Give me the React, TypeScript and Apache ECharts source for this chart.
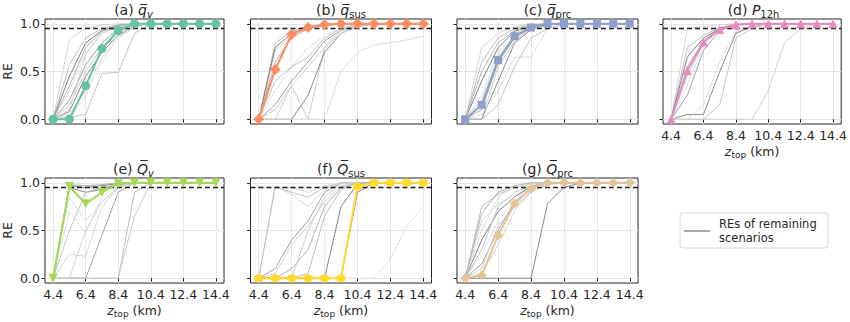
import React, { useEffect, useRef } from "react";
import * as echarts from "echarts";

const Z_TOP = [4.4, 5.4, 6.4, 7.4, 8.4, 9.4, 10.4, 11.4, 12.4, 13.4, 14.4];
const X_TICKS = [4.4, 6.4, 8.4, 10.4, 12.4, 14.4];
const Y_TICKS = [0, 0.5, 1];
const THRESHOLD = 0.95;

const qvMain = [0, 0, 0.35, 0.74, 0.93, 1, 1, 1, 1, 1, 1];
const qvOthers = [
  [0, 0.84, 0.95, 0.99, 1, 1, 1, 1, 1, 1, 1],
  [0, 0.57, 0.85, 0.95, 0.99, 1, 1, 1, 1, 1, 1],
  [0, 0.45, 0.8, 0.93, 0.98, 1, 1, 1, 1, 1, 1],
  [0, 0.3, 0.7, 0.9, 0.97, 1, 1, 1, 1, 1, 1],
  [0, 0.2, 0.57, 0.8, 0.95, 1, 1, 1, 1, 1, 1],
  [0, 0.15, 0.5, 0.75, 0.9, 0.98, 1, 1, 1, 1, 1],
  [0, 0.08, 0.45, 0.7, 0.88, 0.97, 1, 1, 1, 1, 1],
  [0, 0.05, 0.3, 0.65, 0.85, 0.96, 1, 1, 1, 1, 1],
  [0, 0.02, 0.05, 0.48, 0.49, 0.9, 1, 1, 1, 1, 1],
  [0, 0.1, 0.68, 0.9, 0.97, 1, 1, 1, 1, 1, 1],
  [0, 0.35, 0.75, 0.92, 0.98, 1, 1, 1, 1, 1, 1],
  [0, 0, 0.25, 0.6, 0.86, 0.98, 1, 1, 1, 1, 1],
];

const qsusMain = [0, 0.52, 0.89, 0.96, 0.99, 1, 1, 1, 1, 1, 1];
const qsusOthers = [
  [0, 0.72, 0.88, 0.95, 0.99, 1, 1, 1, 1, 1, 1],
  [0, 0.8, 0.92, 0.97, 1, 1, 1, 1, 1, 1, 1],
  [0, 0.75, 0.9, 0.96, 0.99, 1, 1, 1, 1, 1, 1],
  [0, 0.3, 0.55, 0.75, 0.88, 0.95, 0.98, 1, 1, 1, 1],
  [0, 0.15, 0.4, 0.6, 0.82, 0.93, 0.98, 1, 1, 1, 1],
  [0, 0.1, 0.35, 0, 0.75, 0.93, 0.98, 1, 1, 1, 1],
  [0, 0, 0, 0.25, 0.7, 0.9, 0.97, 1, 1, 1, 1],
  [0, 0, 0, 0, 0, 0.5, 0.7, 0.78, 0.8, 0.83, 0.87],
  [0, 0.4, 0.55, 0.65, 0.85, 0.95, 1, 1, 1, 1, 1],
  [0, 0, 0.35, 0.55, 0.75, 0.9, 0.97, 1, 1, 1, 1],
  [0, 0.6, 0.85, 0.95, 0.98, 1, 1, 1, 1, 1, 1],
];

const qprcMain = [0, 0.15, 0.62, 0.87, 0.96, 1, 1, 1, 1, 1, 1];
const qprcOthers = [
  [0, 0.75, 0.9, 0.97, 1, 1, 1, 1, 1, 1, 1],
  [0, 0.6, 0.85, 0.95, 0.99, 1, 1, 1, 1, 1, 1],
  [0, 0.4, 0.75, 0.92, 0.98, 1, 1, 1, 1, 1, 1],
  [0, 0.25, 0.7, 0.9, 0.97, 1, 1, 1, 1, 1, 1],
  [0, 0.1, 0.6, 0.85, 0.96, 1, 1, 1, 1, 1, 1],
  [0, 0, 0.55, 0.82, 0.95, 1, 1, 1, 1, 1, 1],
  [0, 0, 0.4, 0.8, 0.94, 0.99, 1, 1, 1, 1, 1],
  [0, 0.05, 0.3, 0.65, 0.65, 0.95, 1, 1, 1, 1, 1],
  [0, 0, 0.15, 0.55, 0.85, 0.95, 1, 1, 1, 1, 1],
  [0, 0.2, 0.65, 0.88, 0.97, 1, 1, 1, 1, 1, 1],
  [0, 0.5, 0.8, 0.93, 0.98, 1, 1, 1, 1, 1, 1],
];

const p12hMain = [0, 0.51, 0.81, 0.94, 0.99, 1, 1, 1, 1, 1, 1];
const p12hOthers = [
  [0, 0.95, 0.97, 0.99, 1, 1, 1, 1, 1, 1, 1],
  [0, 0.75, 0.88, 0.96, 1, 1, 1, 1, 1, 1, 1],
  [0, 0.65, 0.85, 0.95, 0.99, 1, 1, 1, 1, 1, 1],
  [0, 0.35, 0.78, 0.94, 0.99, 1, 1, 1, 1, 1, 1],
  [0, 0.25, 0.72, 0.93, 0.99, 1, 1, 1, 1, 1, 1],
  [0, 0.45, 0.8, 0.95, 1, 1, 1, 1, 1, 1, 1],
  [0, 0.05, 0.05, 0.5, 0.9, 0.97, 1, 1, 1, 1, 1],
  [0, 0, 0.15, 0.6, 0.92, 0.98, 1, 1, 1, 1, 1],
  [0, 0, 0, 0.15, 0.85, 0.95, 1, 1, 1, 1, 1],
  [0, 0, 0, 0, 0, 0, 0.3, 0.8, 0.95, 1, 1],
  [0, 0.55, 0.82, 0.95, 0.99, 1, 1, 1, 1, 1, 1],
];

const QvMain = [0, 0.96, 0.78, 0.9, 0.99, 1, 1, 1, 1, 1, 1];
const QvOthers = [
  [0, 0.25, 0.23, 0.75, 0.95, 1, 1, 1, 1, 1, 1],
  [0, 0, 0, 0, 0, 0.9, 1, 1, 1, 1, 1],
  [0, 0.97, 0.95, 0.97, 0.99, 1, 1, 1, 1, 1, 1],
  [0, 0.7, 0.47, 0.85, 0.97, 1, 1, 1, 1, 1, 1],
  [0, 0, 0, 0.45, 0.9, 1, 1, 1, 1, 1, 1],
  [0, 0, 0, 0, 0, 0.65, 1, 1, 1, 1, 1],
  [0, 0.95, 0.9, 0.93, 0.98, 1, 1, 1, 1, 1, 1],
  [0, 0.85, 0.6, 0.8, 0.96, 1, 1, 1, 1, 1, 1],
  [0, 0.5, 0.9, 0.95, 0.99, 1, 1, 1, 1, 1, 1],
  [0, 0, 0.5, 0.8, 0.95, 1, 1, 1, 1, 1, 1],
  [0, 0.98, 0.97, 0.98, 1, 1, 1, 1, 1, 1, 1],
];

const QsusMain = [0, 0, 0, 0, 0, 0, 0.96, 1, 1, 1, 1];
const QsusOthers = [
  [0, 0.96, 0.88, 0.75, 0.93, 0.99, 1, 1, 1, 1, 1],
  [0, 0, 0, 0.05, 0.65, 0.93, 1, 1, 1, 1, 1],
  [0, 0, 0, 0, 0, 0.75, 0.99, 1, 1, 1, 1],
  [0, 0, 0, 0, 0, 0, 0, 0, 0.2, 0.55, 0.75],
  [0, 0.1, 0.4, 0.6, 0.9, 1, 1, 1, 1, 1, 1],
  [0, 0, 0, 0.5, 0.85, 1, 1, 1, 1, 1, 1],
  [0, 0, 0, 0, 0, 0, 0.9, 1, 1, 1, 1],
  [0, 0.96, 0.95, 0.9, 0.97, 1, 1, 1, 1, 1, 1],
  [0, 0.96, 0.9, 0.85, 0.95, 1, 1, 1, 1, 1, 1],
  [0, 0.05, 0.35, 0.55, 0.8, 0.97, 1, 1, 1, 1, 1],
  [0, 0, 0.1, 0.3, 0.75, 0.95, 1, 1, 1, 1, 1],
];

const QprcMain = [0, 0.03, 0.45, 0.78, 0.94, 1, 1, 1, 1, 1, 1];
const QprcOthers = [
  [0, 0.6, 0.78, 0.87, 0.95, 1, 1, 1, 1, 1, 1],
  [0, 0.75, 0.88, 0.95, 0.99, 1, 1, 1, 1, 1, 1],
  [0, 0.4, 0.7, 0.85, 0.96, 1, 1, 1, 1, 1, 1],
  [0, 0.25, 0.6, 0.82, 0.95, 0.99, 1, 1, 1, 1, 1],
  [0, 0.15, 0.5, 0.8, 0.94, 1, 1, 1, 1, 1, 1],
  [0, 0.1, 0.55, 0.75, 0.9, 0.98, 1, 1, 1, 1, 1],
  [0, 0, 0, 0, 0, 0.78, 0.95, 1, 1, 1, 1],
  [0, 0.5, 0.85, 0.95, 0.99, 1, 1, 1, 1, 1, 1],
  [0, 0.3, 0.75, 0.9, 0.97, 1, 1, 1, 1, 1, 1],
  [0, 0.05, 0.35, 0.7, 0.92, 0.99, 1, 1, 1, 1, 1],
  [0, 0.68, 0.9, 0.97, 1, 1, 1, 1, 1, 1, 1],
];

const LEGEND_LINES = ["REs of remaining", "scenarios"];

const GRAY_SHADES = ["#d6d6d6", "#bdbdbd", "#7f7f7f", "#e0e0e0", "#a3a3a3", "#cbcbcb", "#8a8a8a", "#dcdcdc", "#c4c4c4", "#d2d2d2", "#b2b2b2", "#e2e2e2"];
const FONT = "DejaVu Sans";

const HEX = "path://M0,-1 L0.866,-0.5 L0.866,0.5 L0,1 L-0.866,0.5 L-0.866,-0.5 Z";
const THIN_DIAMOND = "path://M0,-1 L0.62,0 L0,1 L-0.62,0 Z";

const PANELS = [
  { label: "(a) ", sym: "q\u0305", sub: "v", subItalic: true, main: qvMain, others: qvOthers, color: "#66c2a5", symbol: "circle", size: 9, rot: 0, row: 0, col: 0, xl: false },
  { label: "(b) ", sym: "q\u0305", sub: "sus", subItalic: false, main: qsusMain, others: qsusOthers, color: "#fc8d62", symbol: "diamond", size: 11, rot: 0, row: 0, col: 1, xl: false },
  { label: "(c) ", sym: "q\u0305", sub: "prc", subItalic: false, main: qprcMain, others: qprcOthers, color: "#8da0cb", symbol: "rect", size: 8, rot: 0, row: 0, col: 2, xl: false },
  { label: "(d) ", sym: "P", sub: "12h", subItalic: false, main: p12hMain, others: p12hOthers, color: "#e78ac3", symbol: "triangle", size: 9, rot: 0, row: 0, col: 3, xl: true },
  { label: "(e) ", sym: "Q\u0305", sub: "v", subItalic: true, main: QvMain, others: QvOthers, color: "#a6d854", symbol: "triangle", size: 9, rot: 180, row: 1, col: 0, xl: true },
  { label: "(f) ", sym: "Q\u0305", sub: "sus", subItalic: false, main: QsusMain, others: QsusOthers, color: "#ffd92f", symbol: HEX, size: 9, rot: 0, row: 1, col: 1, xl: true },
  { label: "(g) ", sym: "Q\u0305", sub: "prc", subItalic: false, main: QprcMain, others: QprcOthers, color: "#e5c494", symbol: THIN_DIAMOND, size: 10, rot: 0, row: 1, col: 2, xl: true },
];

const COL_LEFT = [43, 250.5, 457, 663];
const COL_W = 181;
const ROW_TOP = [19, 178];
const ROW_H = 105;

export default function App() {
  const ref = useRef<HTMLDivElement>(null);
  useEffect(() => {
    if (!ref.current) return;
    const chart = echarts.init(ref.current, null, { renderer: "svg" });
    const grids: any[] = [];
    const xAxes: any[] = [];
    const yAxes: any[] = [];
    const series: any[] = [];
    const graphics: any[] = [];
    PANELS.forEach((p, i) => {
      const left = COL_LEFT[p.col];
      const top = ROW_TOP[p.row];
      grids.push({ left, top, width: COL_W, height: ROW_H, show: true, borderColor: "#262626", borderWidth: 1, backgroundColor: "transparent" });
      xAxes.push({
        gridIndex: i, type: "value", min: 3.9, max: 14.9,
        axisLine: { show: false },
        axisTick: { show: true, customValues: X_TICKS, length: 3.5, lineStyle: { color: "#262626", width: 1 } },
        axisLabel: { show: p.xl, customValues: X_TICKS, formatter: (v: number) => v.toFixed(1), fontFamily: FONT, fontSize: 12.5, color: "#262626", margin: 5 },
        splitLine: { show: true, lineStyle: { color: "#e6e6e6", width: 1 } },
        name: p.xl ? "{i|z}{s|top}{n| (km)}" : "",
        nameLocation: "middle", nameGap: 19,
        nameTextStyle: {
          rich: {
            i: { fontFamily: FONT, fontStyle: "italic", fontSize: 12.5, color: "#262626", lineHeight: 16 },
            s: { fontFamily: FONT, fontSize: 9, color: "#262626", verticalAlign: "bottom", lineHeight: 9 },
            n: { fontFamily: FONT, fontSize: 12.5, color: "#262626", lineHeight: 16 },
          },
        },
      });
      yAxes.push({
        gridIndex: i, type: "value", min: -0.05, max: 1.05,
        axisLine: { show: false },
        axisTick: { show: true, customValues: Y_TICKS, length: 3.5, lineStyle: { color: "#262626", width: 1 } },
        axisLabel: { show: p.col === 0, customValues: Y_TICKS, formatter: (v: number) => v.toFixed(1), fontFamily: FONT, fontSize: 12.5, color: "#262626", margin: 5 },
        splitLine: { show: true, lineStyle: { color: "#e6e6e6", width: 1 } },
        name: p.col === 0 ? "RE" : "",
        nameLocation: "middle", nameGap: 31,
        nameTextStyle: { fontFamily: FONT, fontSize: 12.5, color: "#262626" },
      });
      p.others.forEach((arr, k) => {
        series.push({
          type: "line", xAxisIndex: i, yAxisIndex: i, silent: true, z: 2,
          showSymbol: false, symbol: "none",
          lineStyle: { color: GRAY_SHADES[k % GRAY_SHADES.length], width: 1 },
          data: Z_TOP.map((x, j) => [x, arr[j]]),
        });
      });
      series.push({
        type: "line", xAxisIndex: i, yAxisIndex: i, silent: true, z: 3,
        data: [], symbol: "none",
        markLine: {
          silent: true, symbol: "none", label: { show: false },
          lineStyle: { color: "#1a1a1a", type: [5, 3], width: 1.4 },
          data: [{ yAxis: THRESHOLD }],
        },
      });
      series.push({
        type: "line", xAxisIndex: i, yAxisIndex: i, silent: true, z: 5,
        symbol: p.symbol, symbolSize: p.size, symbolRotate: p.rot, showSymbol: true,
        itemStyle: { color: p.color, borderWidth: 0 },
        lineStyle: { color: p.color, width: 2 },
        data: Z_TOP.map((x, j) => [x, p.main[j]]),
      });
      graphics.push({
        type: "text", x: left + COL_W / 2, y: top - 9, silent: true,
        style: {
          text: `{n|${p.label}}{i|${p.sym}}{s|${p.sub}}`,
          align: "center", verticalAlign: "middle",
          rich: {
            n: { fontFamily: FONT, fontSize: 14, fill: "#262626", lineHeight: 18 },
            i: { fontFamily: FONT, fontSize: 14, fontStyle: "italic", fill: "#262626", lineHeight: 18 },
            s: { fontFamily: FONT, fontSize: 10, fontStyle: p.subItalic ? "italic" : "normal", fill: "#262626", lineHeight: 10, verticalAlign: "bottom" },
          },
        },
      });
    });
    graphics.push({ type: "rect", silent: true, shape: { x: 680, y: 213, width: 148, height: 35, r: 3 }, style: { fill: "#ffffff", stroke: "#d6d6d6", lineWidth: 1 } });
    graphics.push({ type: "line", silent: true, shape: { x1: 684, y1: 231, x2: 710, y2: 231 }, style: { stroke: "#8c8c8c", lineWidth: 1.5 } });
    LEGEND_LINES.forEach((t, k) => {
      graphics.push({ type: "text", silent: true, x: 719, y: 223.5 + k * 14, style: { text: t, fontFamily: FONT, fontSize: 11.5, fill: "#262626", align: "left", verticalAlign: "middle" } });
    });
    chart.setOption({
      animation: false,
      grid: grids,
      xAxis: xAxes,
      yAxis: yAxes,
      series,
      graphic: graphics,
    });
    return () => chart.dispose();
  }, []);
  return <div ref={ref} style={{ width: 850, height: 322, position: "absolute", left: 0, top: 0, background: "#fff" }} />;
}
